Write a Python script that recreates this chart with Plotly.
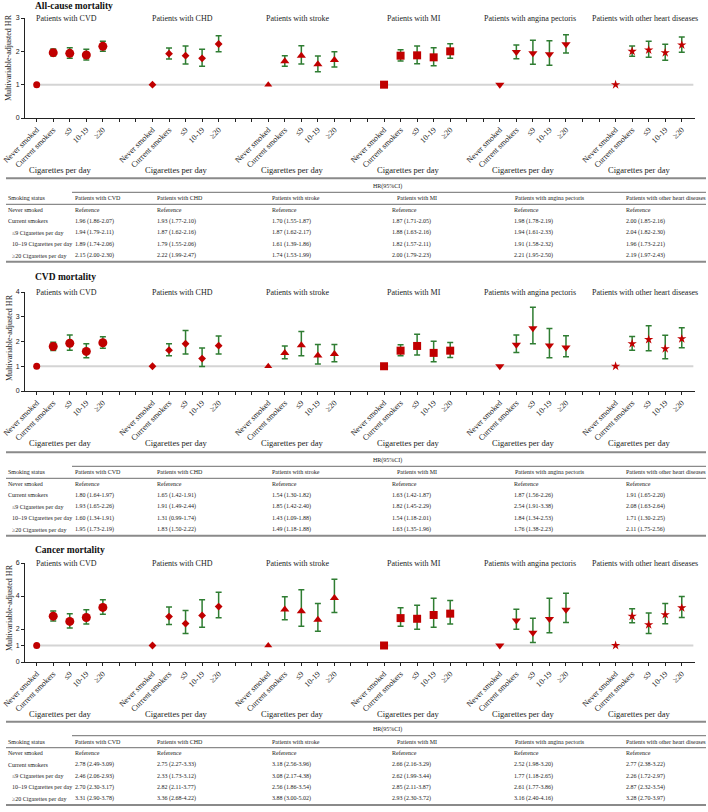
import plotly.graph_objects as go

W, H = 708, 812

# ---------------- data ----------------
groups = ["Patients with CVD", "Patients with CHD", "Patients with stroke",
          "Patients with MI", "Patients with angina pectoris", "Patients with other heart diseases"]
x_labels = ["Never smoked", "Current smokers", "≤9", "10-19", "≥20"]
row_labels = ["Never smoked", "Current smokers", "≤9 Cigarettes per day",
              "10–19 Cigarettes per day", "≥20 Cigarettes per day"]
panel_titles = ["All-cause mortality", "CVD mortality", "Cancer mortality"]
reference_hr = 1.0

# HR for Current smokers, ≤9, 10–19, ≥20 (per patient group)
allcause_hr = [[1.96, 1.94, 1.89, 2.15], [1.93, 1.87, 1.79, 2.22], [1.70, 1.87, 1.61, 1.74],
               [1.87, 1.88, 1.82, 2.00], [1.98, 1.94, 1.91, 2.21], [2.00, 2.04, 1.96, 2.19]]
allcause_lo = [[1.86, 1.79, 1.74, 2.00], [1.77, 1.62, 1.55, 1.99], [1.55, 1.62, 1.39, 1.53],
               [1.71, 1.63, 1.57, 1.79], [1.78, 1.61, 1.58, 1.95], [1.85, 1.82, 1.73, 1.97]]
allcause_hi = [[2.07, 2.11, 2.06, 2.30], [2.10, 2.16, 2.06, 2.47], [1.87, 2.17, 1.86, 1.99],
               [2.05, 2.16, 2.11, 2.23], [2.19, 2.33, 2.32, 2.50], [2.16, 2.30, 2.21, 2.43]]

cvd_hr = [[1.80, 1.93, 1.60, 1.95], [1.65, 1.91, 1.31, 1.83], [1.54, 1.85, 1.43, 1.49],
          [1.63, 1.82, 1.54, 1.63], [1.87, 2.54, 1.84, 1.76], [1.91, 2.08, 1.71, 2.11]]
cvd_lo = [[1.64, 1.65, 1.34, 1.73], [1.42, 1.49, 0.99, 1.50], [1.30, 1.42, 1.09, 1.18],
          [1.42, 1.45, 1.18, 1.35], [1.56, 1.91, 1.34, 1.38], [1.65, 1.63, 1.30, 1.75]]
cvd_hi = [[1.97, 2.26, 1.91, 2.19], [1.91, 2.44, 1.74, 2.22], [1.82, 2.40, 1.88, 1.88],
          [1.87, 2.29, 2.01, 1.96], [2.26, 3.38, 2.53, 2.23], [2.20, 2.64, 2.25, 2.56]]

cancer_hr = [[2.78, 2.46, 2.70, 3.31], [2.75, 2.33, 2.82, 3.36], [3.18, 3.08, 2.56, 3.88],
             [2.66, 2.62, 2.85, 2.93], [2.52, 1.77, 2.61, 3.16], [2.77, 2.26, 2.87, 3.28]]
cancer_lo = [[2.49, 2.06, 2.30, 2.90], [2.27, 1.73, 2.11, 2.68], [2.56, 2.17, 1.86, 3.00],
             [2.16, 1.99, 2.11, 2.30], [1.98, 1.18, 1.77, 2.40], [2.38, 1.72, 2.32, 2.70]]
cancer_hi = [[3.09, 2.93, 3.17, 3.78], [3.33, 3.12, 3.77, 4.22], [3.96, 4.38, 3.54, 5.02],
             [3.29, 3.44, 3.87, 3.72], [3.20, 2.65, 3.86, 4.16], [3.22, 2.97, 3.54, 3.97]]

panels = [(allcause_hr, allcause_lo, allcause_hi),
          (cvd_hr, cvd_lo, cvd_hi),
          (cancer_hr, cancer_lo, cancer_hi)]
y_max = [3, 4, 6]
y_ticks = [[0, 1, 2, 3], [0, 1, 2, 3, 4], [0, 1, 2, 4, 6]]

# ---------------- styling / geometry (window pixels) ----------------
SERIF = "Liberation Serif, Times New Roman, serif"
SANS = "Liberation Sans, Arial, sans-serif"
RED = "#C00000"
GREEN = "#2F7D32"
symbols = ["circle", "diamond", "triangle-up", "square", "triangle-down", "star"]
sizes = [9, 6, 8, 8, 8, 7]
ref_sizes = [7, 6, 7, 8, 8, 7]

plot_top = [18, 292, 563]
plot_bot = [118, 391, 662]
title_y = [6, 277, 550]
ytitle_y = [58, 338, 608]
table_top = [178.3, 452.3, 721.7]
x_left, x_right = 25, 695
x_range = [-0.707, 39.8]
SLOT = 7  # 5 categories + 2 empty slots per group


def px(x):
    return x / W


def py(y):
    return 1 - y / H


fig = go.Figure()
annotations = []
shapes = []
layout_axes = {}

for p, (hr, lo, hi) in enumerate(panels):
    sfx = "" if p == 0 else str(p + 1)
    xa, ya = "x" + sfx, "y" + sfx
    for g in range(6):
        xs = [SLOT * g + i for i in range(1, 5)]
        fig.add_trace(go.Scatter(
            x=xs, y=hr[g], mode="markers", xaxis=xa, yaxis=ya, showlegend=False,
            marker=dict(symbol=symbols[g], size=sizes[g], color=RED),
            error_y=dict(type="data", symmetric=False,
                         array=[h - v for h, v in zip(hi[g], hr[g])],
                         arrayminus=[v - l for v, l in zip(hr[g], lo[g])],
                         color=GREEN, thickness=1.5, width=3),
            cliponaxis=False))
        fig.add_trace(go.Scatter(
            x=[SLOT * g], y=[reference_hr], mode="markers", xaxis=xa, yaxis=ya, showlegend=False,
            marker=dict(symbol=symbols[g], size=ref_sizes[g], color=RED), cliponaxis=False))
        # subtitle
        annotations.append(dict(x=SLOT * g + 2 - 0.2, y=py(plot_top[p]), xref=xa, yref="paper",
                                 text=groups[g], showarrow=False, xanchor="center", yanchor="middle",
                                 font=dict(family=SERIF, size=8, color="#222")))
        # cigarettes per day
        annotations.append(dict(x=SLOT * g + 2 - 0.55, y=py(plot_bot[p] + 52), xref=xa, yref="paper",
                                 text="Cigarettes per day", showarrow=False, xanchor="center",
                                 yanchor="middle", font=dict(family=SERIF, size=8.5, color="#222")))
    # reference line
    shapes.append(dict(type="line", xref=xa, yref=ya, x0=0, x1=39.7, y0=reference_hr, y1=reference_hr,
                       line=dict(color="#d4d4d4", width=2), layer="below"))

    tickvals = list(range(0, 40))
    ticktext = [x_labels[v % SLOT] if v % SLOT < 5 else "" for v in tickvals]
    layout_axes["xaxis" + sfx] = dict(
        domain=[px(x_left), px(x_right)], range=x_range, anchor=ya, automargin=False,
        tickmode="array", tickvals=tickvals, ticktext=ticktext, tickangle=-45,
        ticks="outside", ticklen=3, tickcolor="#222", showline=True, linecolor="#222", linewidth=1,
        showgrid=False, zeroline=False, tickfont=dict(family=SERIF, size=8, color="#222"))
    layout_axes["yaxis" + sfx] = dict(
        domain=[py(plot_bot[p]), py(plot_top[p])], range=[0, y_max[p]], anchor=xa, automargin=False,
        tickmode="array", tickvals=y_ticks[p], ticks="outside", ticklen=3, tickcolor="#222",
        showline=True, linecolor="#222", linewidth=1, showgrid=False, zeroline=False,
        tickfont=dict(family=SANS, size=7, color="#222"))

    # panel title & y title
    annotations.append(dict(x=px(33), y=py(title_y[p]), xref="paper", yref="paper",
                             text="<b>" + panel_titles[p] + "</b>", showarrow=False,
                             xanchor="left", yanchor="middle",
                             font=dict(family=SERIF, size=9.5, color="#111")))
    annotations.append(dict(x=px(9), y=py(ytitle_y[p]), xref="paper", yref="paper",
                             text="Multivariable-adjusted HR", textangle=-90, showarrow=False,
                             xanchor="center", yanchor="middle",
                             font=dict(family=SERIF, size=8, color="#222")))

    # ---------------- table ----------------
    t0 = table_top[p]
    tf = dict(family=SERIF, size=6, color="#222")
    shapes.append(dict(type="line", xref="paper", yref="paper", x0=px(6), x1=px(706),
                       y0=py(t0), y1=py(t0), line=dict(color="#8a8a8a", width=2)))
    shapes.append(dict(type="line", xref="paper", yref="paper", x0=px(72), x1=px(706),
                       y0=py(t0 + 14), y1=py(t0 + 14), line=dict(color="#8a8a8a", width=1.2)))
    shapes.append(dict(type="line", xref="paper", yref="paper", x0=px(6), x1=px(706),
                       y0=py(t0 + 26), y1=py(t0 + 26), line=dict(color="#8a8a8a", width=1.2)))
    shapes.append(dict(type="line", xref="paper", yref="paper", x0=px(6), x1=px(706),
                       y0=py(t0 + 83.4), y1=py(t0 + 83.4), line=dict(color="#8a8a8a", width=2)))
    annotations.append(dict(x=px(371), y=py(t0 + 8.2), xref="paper", yref="paper", text="HR(95%CI)",
                             showarrow=False, xanchor="left", yanchor="middle", font=tf))
    annotations.append(dict(x=px(6), y=py(t0 + 20), xref="paper", yref="paper", text="Smoking status",
                             showarrow=False, xanchor="left", yanchor="middle", font=tf))
    col_x = [73, 155, 270, 390, 512, 624]
    head_x = [73, 155, 270, 395, 513, 624]
    for g in range(6):
        annotations.append(dict(x=px(head_x[g]), y=py(t0 + 20), xref="paper", yref="paper",
                                 text=groups[g], showarrow=False, xanchor="left", yanchor="middle",
                                 font=tf))
    for r in range(5):
        ry = t0 + 31.4 + 11.45 * r
        annotations.append(dict(x=px(6 if r < 2 else 10), y=py(ry), xref="paper", yref="paper",
                                 text=row_labels[r], showarrow=False, xanchor="left",
                                 yanchor="middle", font=tf))
        for g in range(6):
            if r == 0:
                txt = "Reference"
            else:
                txt = f"{hr[g][r-1]:.2f} ({lo[g][r-1]:.2f}-{hi[g][r-1]:.2f})"
            annotations.append(dict(x=px(col_x[g]), y=py(ry), xref="paper", yref="paper",
                                     text=txt, showarrow=False, xanchor="left", yanchor="middle",
                                     font=tf))

fig.update_layout(
    template="none",
    width=W, height=H, margin=dict(l=0, r=0, t=0, b=0, autoexpand=False),
    paper_bgcolor="white", plot_bgcolor="white", showlegend=False, hovermode=False,
    annotations=annotations, shapes=shapes, **layout_axes)

fig.write_html("out.html", config={"displayModeBar": False, "staticPlot": True},
               post_script="document.body.style.margin='0';document.body.style.overflow='hidden';")
